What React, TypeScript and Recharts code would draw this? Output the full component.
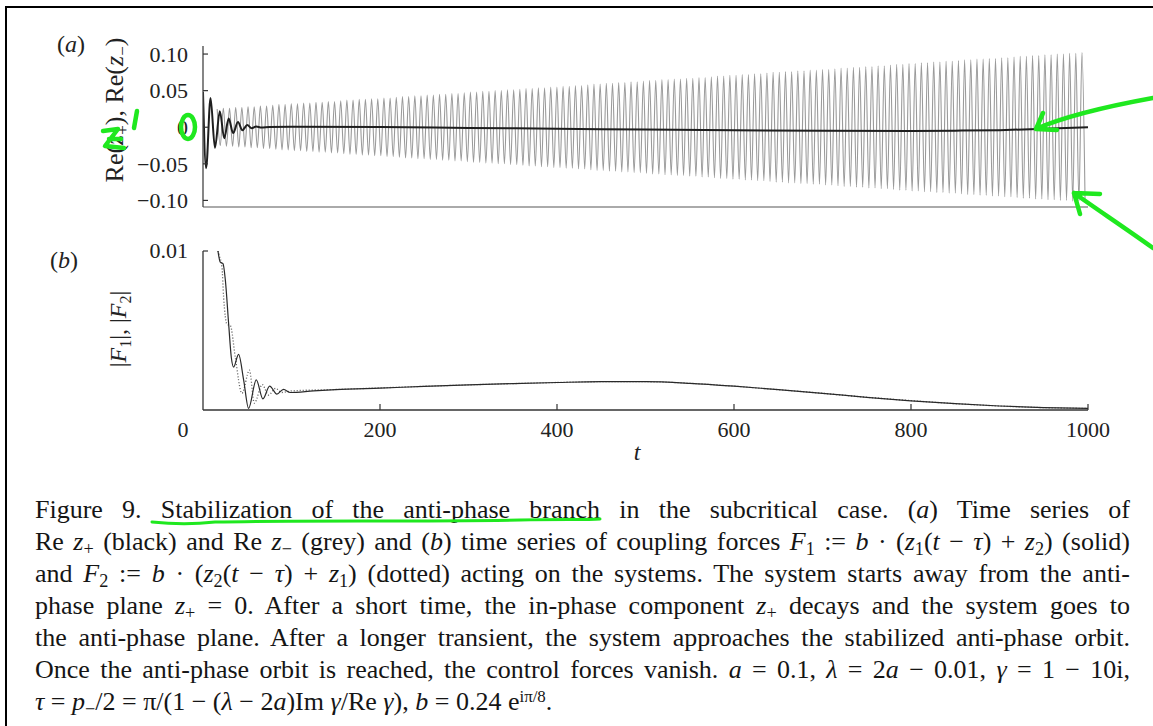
import React from "react";
import { Line, LineChart, XAxis, YAxis } from "recharts";

const FONT = '"Liberation Serif", "Times New Roman", serif';
const GREEN = "#1fe81f";

// panel (a), Re z+ (black): transient then slow drift
const plusT = [0, 3.5, 8.5, 13.5, 19, 24, 29, 34, 39.5, 44.5, 50, 55, 60, 66, 75, 100, 200, 300, 400, 500, 600, 700, 800, 850, 900, 950, 1000];
const plusRe = [0.048, -0.056, 0.04, -0.028, 0.022, -0.015, 0.012, -0.008, 0.007, -0.004, 0.003, -0.0015, 0.001, -0.0005, 0.0003, 0.0005, 0.0003, -0.001, -0.002, -0.0032, -0.0042, -0.0048, -0.005, -0.0047, -0.004, -0.0022, 0];

// panel (a), Re z- (grey): swing of each cycle
const greyStart = 16;
const greyPeriod = 6.98;
const greySwing = [
  0.025, 0.026, 0.026, 0.027, 0.027, 0.028, 0.028, 0.029, 0.029, 0.03,
  0.031, 0.031, 0.032, 0.032, 0.033, 0.033, 0.034, 0.034, 0.035, 0.035,
  0.036, 0.037, 0.037, 0.038, 0.038, 0.039, 0.039, 0.04, 0.04, 0.041,
  0.042, 0.042, 0.043, 0.043, 0.044, 0.044, 0.045, 0.045, 0.046, 0.046,
  0.047, 0.048, 0.048, 0.049, 0.049, 0.05, 0.05, 0.051, 0.051, 0.052,
  0.053, 0.053, 0.054, 0.054, 0.055, 0.055, 0.056, 0.056, 0.057, 0.057,
  0.058, 0.059, 0.059, 0.06, 0.06, 0.061, 0.061, 0.062, 0.062, 0.063,
  0.064, 0.064, 0.065, 0.065, 0.066, 0.066, 0.067, 0.067, 0.068, 0.068,
  0.069, 0.07, 0.07, 0.071, 0.071, 0.072, 0.072, 0.073, 0.073, 0.074,
  0.075, 0.075, 0.076, 0.076, 0.077, 0.077, 0.078, 0.078, 0.079, 0.079,
  0.08, 0.081, 0.081, 0.082, 0.082, 0.083, 0.083, 0.084, 0.084, 0.085,
  0.086, 0.086, 0.087, 0.087, 0.088, 0.088, 0.089, 0.089, 0.09, 0.09,
  0.091, 0.092, 0.092, 0.093, 0.093, 0.094, 0.094, 0.095, 0.095, 0.096,
  0.097, 0.097, 0.098, 0.098, 0.099, 0.099, 0.1, 0.1, 0.101, 0.101,
  0.102,
];

// panel (b), |F1| (solid) and |F2| (dotted)
const f1T = [16.9, 19.5, 22.6, 25.2, 29, 32, 34.6, 40.2, 45.9, 51.5, 60.2, 67.7, 75.3, 83.5, 91, 98.5, 125, 150, 200, 250, 300, 350, 400, 450, 500, 550, 600, 650, 700, 750, 800, 850, 900, 950, 1000];
const f1Abs = [0.01, 0.0093, 0.0092, 0.0082, 0.0054, 0.0033, 0.0027, 0.0035, 0.0019, 0.0001, 0.0019, 0.0007, 0.0015, 0.001, 0.0013, 0.0011, 0.0012, 0.00128, 0.00138, 0.00148, 0.00158, 0.00166, 0.00173, 0.00178, 0.00178, 0.00168, 0.0015, 0.00128, 0.00105, 0.0008, 0.00058, 0.0004, 0.00025, 0.00015, 0.0001];
const f2T = [16.9, 18.5, 21.4, 23.3, 27, 31, 36.5, 44, 52.5, 58, 67, 74, 82, 89, 100, 150, 200, 250, 300, 350, 400, 450, 500, 550, 600, 650, 700, 750, 800, 850, 900, 950, 1000];
const f2Abs = [0.01, 0.0097, 0.009, 0.0071, 0.0054, 0.0053, 0.0033, 0.00105, 0.0025, 0.00044, 0.0016, 0.00094, 0.00136, 0.0011, 0.0012, 0.00129, 0.00139, 0.00149, 0.00158, 0.00166, 0.00173, 0.00178, 0.00178, 0.00168, 0.0015, 0.00128, 0.00105, 0.0008, 0.00059, 0.0004, 0.00025, 0.00015, 0.0001];

const yTicksA = [-0.1, -0.05, 0, 0.05, 0.1];
const yLabelsA = ["\u22120.10", "\u22120.05", "0", "0.05", "0.10"];
const xTicks = [0, 200, 400, 600, 800, 1000];

const plusRows = plusT.map((t, i) => ({ t, v: plusRe[i] }));
const greyRows = greySwing.flatMap((s, k) => [
  { t: greyStart + k * greyPeriod, v: s },
  { t: greyStart + (k + 0.5) * greyPeriod, v: -s },
]);
const f1Rows = f1T.map((t, i) => ({ t, v: f1Abs[i] }));
const f2Rows = f2T.map((t, i) => ({ t, v: f2Abs[i] }));

function YTickA(props: any) {
  const { x, y, payload } = props;
  const label = yLabelsA[yTicksA.indexOf(payload.value)] ?? String(payload.value);
  return (
    <g>
      <line x1={x} x2={x + 5} y1={y} y2={y} stroke="#333" strokeWidth={1.2} />
      <text x={x - 15} y={y} dy="0.35em" textAnchor="end" fontFamily={FONT} fontSize={22} fill="#222">
        {label}
      </text>
    </g>
  );
}

function YTickB(props: any) {
  const { x, y } = props;
  return (
    <g>
      <line x1={x} x2={x + 5} y1={y} y2={y} stroke="#333" strokeWidth={1.2} />
      <text x={x - 15} y={y} dy="0.3em" textAnchor="end" fontFamily={FONT} fontSize={22} fill="#222">
        0.01
      </text>
    </g>
  );
}

function XTickB(props: any) {
  const { x, y, payload } = props;
  if (payload.value === 0) {
    return (
      <text x={x - 20} y={y + 27} textAnchor="middle" fontFamily={FONT} fontSize={22} fill="#222">
        0
      </text>
    );
  }
  return (
    <g>
      <line x1={x} x2={x} y1={y} y2={y - 6} stroke="#333" strokeWidth={1.2} />
      <text x={x} y={y + 27} textAnchor="middle" fontFamily={FONT} fontSize={22} fill="#222">
        {payload.value}
      </text>
    </g>
  );
}

const sub = { fontSize: "0.7em", lineHeight: 0, verticalAlign: "-0.3em" } as const;

function CapLine({ children, last }: { children: React.ReactNode; last?: boolean }) {
  return (
    <div
      style={{
        height: 32,
        lineHeight: "32px",
        textAlign: last ? "left" : "justify",
        textAlignLast: last ? "left" : "justify",
      }}
    >
      {children}
    </div>
  );
}

export default function App() {
  return (
    <div style={{ position: "absolute", left: 0, top: 0, width: 1153, height: 726, background: "#fff", overflow: "hidden" }}>
      <div style={{ position: "absolute", left: 5, top: 6, width: 1200, height: 800, borderTop: "2px solid #000", borderLeft: "2px solid #000" }} />

      <div style={{ position: "absolute", left: 0, top: 0 }}>
        <LineChart width={1153} height={230} margin={{ top: 46, right: 65, bottom: 3, left: 0 }}>
          <XAxis dataKey="t" type="number" domain={[0, 1000]} allowDataOverflow height={20} tick={false} tickLine={false} axisLine={{ stroke: "#aaa", strokeWidth: 2 }} />
          <YAxis
            type="number"
            domain={[-0.109, 0.111]}
            allowDataOverflow
            width={203}
            ticks={yTicksA}
            tickSize={0}
            tickMargin={0}
            tickLine={false}
            tick={<YTickA />}
            axisLine={{ stroke: "#444", strokeWidth: 1.3 }}
          />
          <Line data={greyRows} dataKey="v" type="monotone" stroke="#9a9a9a" strokeWidth={1.1} dot={false} isAnimationActive={false} />
          <Line data={plusRows} dataKey="v" type="monotone" stroke="#1e1e1e" strokeWidth={2} dot={false} isAnimationActive={false} />
        </LineChart>
      </div>

      <div style={{ position: "absolute", left: 0, top: 0 }}>
        <LineChart width={1153} height={480} margin={{ top: 251, right: 65, bottom: 30, left: 0 }}>
          <XAxis
            dataKey="t"
            type="number"
            domain={[0, 1000]}
            ticks={xTicks}
            allowDataOverflow
            height={40}
            tickSize={0}
            tickMargin={0}
            tickLine={false}
            tick={<XTickB />}
            axisLine={{ stroke: "#333", strokeWidth: 1.3 }}
          />
          <YAxis
            type="number"
            domain={[0, 0.01]}
            allowDataOverflow
            width={203}
            ticks={[0.01]}
            tickSize={0}
            tickMargin={0}
            tickLine={false}
            tick={<YTickB />}
            axisLine={{ stroke: "#333", strokeWidth: 1.3 }}
          />
          <Line data={f2Rows} dataKey="v" type="monotone" stroke="#555" strokeWidth={1.3} strokeDasharray="1 2" dot={false} isAnimationActive={false} />
          <Line data={f1Rows} dataKey="v" type="monotone" stroke="#2a2a2a" strokeWidth={1.2} dot={false} isAnimationActive={false} />
        </LineChart>
      </div>

      <svg width={1153} height={480} style={{ position: "absolute", left: 0, top: 0 }}>
        <g fontFamily={FONT} fill="#222">
          <text x={71} y={52} fontSize={24} textAnchor="middle">
            (<tspan fontStyle="italic">a</tspan>)
          </text>
          <text x={64} y={268} fontSize={24} textAnchor="middle">
            (<tspan fontStyle="italic">b</tspan>)
          </text>
          <text x={123} y={110} fontSize={26} textAnchor="middle" transform="rotate(-90 123 110)">
            Re(<tspan fontStyle="italic">z</tspan>
            <tspan fontSize={17} dy={5}>+</tspan>
            <tspan dy={-5}>), Re(</tspan>
            <tspan fontStyle="italic">z</tspan>
            <tspan fontSize={17} dy={5}>{"\u2212"}</tspan>
            <tspan dy={-5}>)</tspan>
          </text>
          <text x={126} y={329} fontSize={24} textAnchor="middle" transform="rotate(-90 126 329)">
            |<tspan fontStyle="italic">F</tspan>
            <tspan fontSize={16} dy={5}>1</tspan>
            <tspan dy={-5}>|, |</tspan>
            <tspan fontStyle="italic">F</tspan>
            <tspan fontSize={16} dy={5}>2</tspan>
            <tspan dy={-5}>|</tspan>
          </text>
          <text x={637} y={460} fontSize={24} fontStyle="italic" textAnchor="middle">
            t
          </text>
        </g>
      </svg>

      <div style={{ position: "absolute", left: 35, top: 494, width: 1095, fontFamily: FONT, fontSize: 26, color: "#151515" }}>
        <CapLine>
          Figure 9. Stabilization of the anti-phase branch in the subcritical case. (<i>a</i>) Time series of
        </CapLine>
        <CapLine>
          Re <i>z</i><sub style={sub}>+</sub> (black) and Re <i>z</i><sub style={sub}>{"\u2212"}</sub> (grey) and (<i>b</i>) time series of coupling forces <i>F</i><sub style={sub}>1</sub> := <i>b</i> · (<i>z</i><sub style={sub}>1</sub>(<i>t</i> − <i>τ</i>) + <i>z</i><sub style={sub}>2</sub>) (solid)
        </CapLine>
        <CapLine>
          and <i>F</i><sub style={sub}>2</sub> := <i>b</i> · (<i>z</i><sub style={sub}>2</sub>(<i>t</i> − <i>τ</i>) + <i>z</i><sub style={sub}>1</sub>) (dotted) acting on the systems. The system starts away from the anti-
        </CapLine>
        <CapLine>
          phase plane <i>z</i><sub style={sub}>+</sub> = 0. After a short time, the in-phase component <i>z</i><sub style={sub}>+</sub> decays and the system goes to
        </CapLine>
        <CapLine>the anti-phase plane. After a longer transient, the system approaches the stabilized anti-phase orbit.</CapLine>
        <CapLine>
          Once the anti-phase orbit is reached, the control forces vanish. <i>a</i> = 0.1, <i>λ</i> = 2<i>a</i> − 0.01, <i>γ</i> = 1 − 10i,
        </CapLine>
        <CapLine last>
          <i>τ</i> = <i>p</i><sub style={sub}>−</sub>/2 = π/(1 − (<i>λ</i> − 2<i>a</i>)Im <i>γ</i>/Re <i>γ</i>), <i>b</i> = 0.24 e
          <sup style={{ fontSize: "0.65em", lineHeight: 0, verticalAlign: "0.45em" }}>iπ/8</sup>.
        </CapLine>
      </div>

      <svg width={1153} height={726} style={{ position: "absolute", left: 0, top: 0, pointerEvents: "none" }}>
        <g fill="none" stroke={GREEN} strokeWidth={4.5} strokeLinecap="round" strokeLinejoin="round">
          <ellipse cx={188} cy={127} rx={7} ry={12} />
          <path d="M103 131 L118 129 L105 146 L124 148 M109 139 L121 139" />
          <path d="M137 111 L134 128" />
          <path d="M1153 98 C1120 104 1070 114 1036 129 M1036 129 L1043 113 M1036 129 L1057 130" />
          <path d="M1153 248 C1125 228 1095 208 1074 193 M1074 193 L1080 214 M1074 193 L1100 194" />
          <path d="M152 522 C170 524 190 525 215 522 C300 520 420 522 520 520 C560 519 585 520 600 519" strokeWidth={3} />
        </g>
      </svg>
    </div>
  );
}
